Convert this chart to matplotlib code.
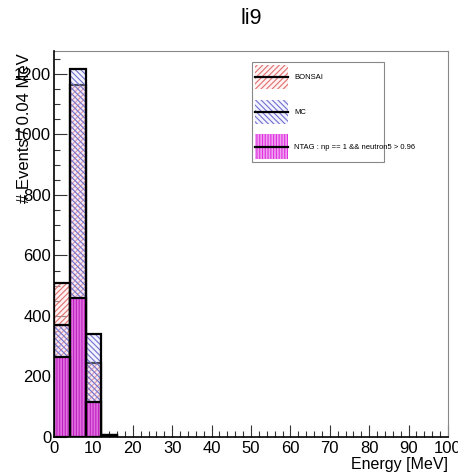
import matplotlib
matplotlib.use("Agg")
import matplotlib.pyplot as plt
import numpy as np
from matplotlib.patches import Patch, Rectangle
from matplotlib.lines import Line2D
from matplotlib.ticker import MultipleLocator

plt.rcParams['font.family'] = ['Liberation Sans', 'DejaVu Sans']
plt.rcParams['hatch.linewidth'] = 0.8

# Data (bin edges in MeV, 4 MeV bins)
bin_edges = [0, 4, 8, 12, 16]
bonsai = [510, 1165, 245, 5]
mc = [370, 1215, 340, 5]
ntag = [265, 460, 115, 4]

labels = ["BONSAI", "MC", "NTAG : np == 1 && neutron5 > 0.96"]
title = "li9"

fig = plt.figure(figsize=(4.58, 4.73), dpi=100)
ax = fig.add_axes([54/458, 36/473, 394/458, 386/473])

left = np.array(bin_edges[:-1])
widths = np.diff(bin_edges)

styles = [
    dict(face=(1.0, 0.90, 0.90, 0.5), hatch='//////', hcolor='#e07070'),
    dict(face=(0.88, 0.88, 1.0, 0.35), hatch='\\\\\\\\\\\\', hcolor='#7070d0'),
    dict(face='#e070e0', hatch='||||||', hcolor='#c020c0'),
]

def draw(vals, st, z):
    ax.bar(left, vals, width=widths, align='edge', color=st['face'], hatch=st['hatch'],
           edgecolor=st['hcolor'], linewidth=0, zorder=z)
    ax.bar(left, vals, width=widths, align='edge', facecolor='none',
           edgecolor='black', linewidth=1.6, zorder=z + 0.5)

draw(bonsai, styles[0], 2)
draw(mc, styles[1], 3)
draw(ntag, styles[2], 4)

ax.set_xlim(0, 100)
ax.set_ylim(0, 1276)
ax.xaxis.set_major_locator(MultipleLocator(10))
ax.xaxis.set_minor_locator(MultipleLocator(2))
ax.yaxis.set_major_locator(MultipleLocator(200))
ax.yaxis.set_minor_locator(MultipleLocator(50))
ax.tick_params(which='both', direction='in', top=False, right=False,
               labelsize=12, width=0.8, color='#333333')
ax.tick_params(which='major', length=9)
ax.tick_params(which='minor', length=4.5)
ax.tick_params(axis='x', pad=3)
ax.tick_params(axis='y', pad=2)
for s in ['top', 'right']:
    ax.spines[s].set_color('#888888')
    ax.spines[s].set_linewidth(0.8)
for s in ['left', 'bottom']:
    ax.spines[s].set_color('black')
    ax.spines[s].set_linewidth(1.2)
    ax.spines[s].set_zorder(6)

ax.set_xlabel("Energy [MeV]", fontsize=11.5, loc='right')
ax.set_ylabel("# Events / 0.04 MeV", fontsize=12, loc='top')
ax.yaxis.set_label_coords(-0.056, 0.995)
ax.xaxis.set_label_coords(1.0, -0.053)

fig.text(251/458, 1 - 18/473, title, fontsize=15.5, ha='center', va='center')


class HatchLineHandler:
    def __init__(self, face, hatch, hcolor):
        self.face, self.hatch, self.hcolor = face, hatch, hcolor

    def legend_artist(self, legend, orig_handle, fontsize, handlebox):
        x0, y0 = handlebox.xdescent, handlebox.ydescent
        w, h = handlebox.width, handlebox.height
        tr = handlebox.get_transform()
        rect = Rectangle((-x0, -y0), w, h, facecolor=self.face, hatch=self.hatch,
                         edgecolor=self.hcolor, linewidth=0, transform=tr)
        line = Line2D([-x0, -x0 + w], [-y0 + h / 2] * 2, color='black', lw=1.6,
                      transform=tr)
        handlebox.add_artist(rect)
        handlebox.add_artist(line)
        return rect


legend_faces = [(1.0, 0.90, 0.90, 0.5), (0.88, 0.88, 1.0, 0.35), '#f0a0f0']
legend_hcolors = ['#e07070', '#7070d0', '#e030e0']
handles = [Patch() for _ in labels]
hmap = {h: HatchLineHandler(f, st['hatch'], c)
        for h, f, st, c in zip(handles, legend_faces, styles, legend_hcolors)}

leg = ax.legend(handles, labels, handler_map=hmap, loc='upper left',
                bbox_to_anchor=(252/458, 1 - 160/473, 132/458, 98/473),
                bbox_transform=fig.transFigure, mode='expand',
                fontsize=5.5, frameon=True, fancybox=False, framealpha=1,
                edgecolor='#888888', handlelength=4.4, handleheight=4.6,
                labelspacing=1.33, borderpad=0.35, handletextpad=0.8,
                borderaxespad=0)
leg.get_frame().set_linewidth(0.8)
leg.set_zorder(10)

fig.savefig("out.png", dpi=100)
